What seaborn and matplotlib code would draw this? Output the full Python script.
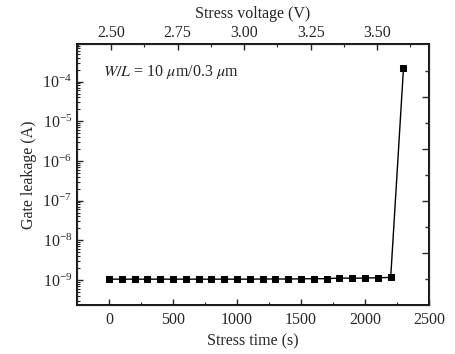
import numpy as np
import pandas as pd
import matplotlib
matplotlib.use("Agg")
import matplotlib.pyplot as plt
import seaborn as sns
from matplotlib.ticker import LogLocator, MultipleLocator, NullFormatter, FixedLocator

# data
stress_time = [0, 100, 200, 300, 400, 500, 600, 700, 800, 900, 1000, 1100,
               1200, 1300, 1400, 1500, 1600, 1700, 1800, 1900, 2000, 2100, 2200, 2300]
gate_leakage = [1.05e-9, 1.05e-9, 1.05e-9, 1.05e-9, 1.05e-9, 1.05e-9, 1.05e-9, 1.05e-9,
                1.05e-9, 1.05e-9, 1.05e-9, 1.05e-9, 1.06e-9, 1.06e-9, 1.06e-9, 1.07e-9,
                1.08e-9, 1.08e-9, 1.12e-9, 1.11e-9, 1.12e-9, 1.14e-9, 1.16e-9, 2.2e-4]
volt_ticks = [2.50, 2.75, 3.00, 3.25, 3.50]
volt_labels = ["2.50", "2.75", "3.00", "3.25", "3.50"]

df = pd.DataFrame({"t": stress_time, "ig": gate_leakage})

sns.set_style("ticks")
plt.rcParams["font.family"] = ["Liberation Serif", "DejaVu Serif"]
plt.rcParams["mathtext.fontset"] = "stix"
plt.rcParams["xtick.direction"] = "in"
plt.rcParams["ytick.direction"] = "in"

fig = plt.figure(figsize=(4.56, 3.54), dpi=100)
ax = fig.add_axes([0.169, 0.1384, 0.772, 0.7387])

sns.lineplot(data=df, x="t", y="ig", ax=ax, color="black", linewidth=1,
             marker="s", markersize=5, markeredgecolor="black")
ax.set_yscale("log")
ax.set_xlim(-250, 2500)
ax.set_ylim(10**-9.63, 10**-3.04)

ax.xaxis.set_major_locator(FixedLocator([0, 500, 1000, 1500, 2000, 2500]))
ax.xaxis.set_minor_locator(FixedLocator([250, 750, 1250, 1750, 2250]))
ax.yaxis.set_major_locator(LogLocator(base=10, numticks=20))
ax.yaxis.set_minor_locator(LogLocator(base=10, subs=np.arange(2, 10), numticks=20))
ax.yaxis.set_minor_formatter(NullFormatter())
ax.tick_params(which="major", length=4, width=1, labelsize=11.5)
ax.tick_params(which="minor", length=2, width=0.8)
ax.tick_params(axis="x", pad=5)
ax.set_xlabel("Stress time (s)", fontsize=11.5, labelpad=4)
ax.set_ylabel("Gate leakage (A)", fontsize=11.5, labelpad=4)

for s in ax.spines.values():
    s.set_linewidth(1.3)
    s.set_color("black")

ax.text(-50, 10**-3.75, r"$W/L$ = 10 $\mu$m/0.3 $\mu$m", fontsize=11.5, va="center")

# top axis: stress voltage
axt = ax.twiny()
axt.set_xlim(2.372, 3.695)
axt.xaxis.set_major_locator(FixedLocator(volt_ticks))
axt.set_xticklabels(volt_labels)
axt.xaxis.set_minor_locator(MultipleLocator(0.125))
axt.tick_params(axis="x", which="major", length=4, width=1, labelsize=11.5, pad=1.5)
axt.tick_params(axis="x", which="minor", length=2, width=0.8)
axt.tick_params(axis="y", which="both", left=False, right=False,
                labelleft=False, labelright=False)
axt.set_xlabel("Stress voltage (V)", fontsize=11.5, labelpad=5)

# right axis: unlabeled ticks
axr = ax.twinx()
axr.set_ylim(0, 5.02)
axr.yaxis.set_major_locator(FixedLocator([1, 2, 3, 4]))
axr.yaxis.set_minor_locator(FixedLocator([0.5, 1.5, 2.5, 3.5, 4.5]))
axr.yaxis.set_major_formatter(NullFormatter())
axr.tick_params(axis="y", which="major", length=5, width=1, labelright=False)
axr.tick_params(axis="y", which="minor", length=3, width=1)
axr.tick_params(axis="x", which="both", bottom=False, top=False,
                labelbottom=False, labeltop=False)

fig.savefig("out.png", dpi=100)
